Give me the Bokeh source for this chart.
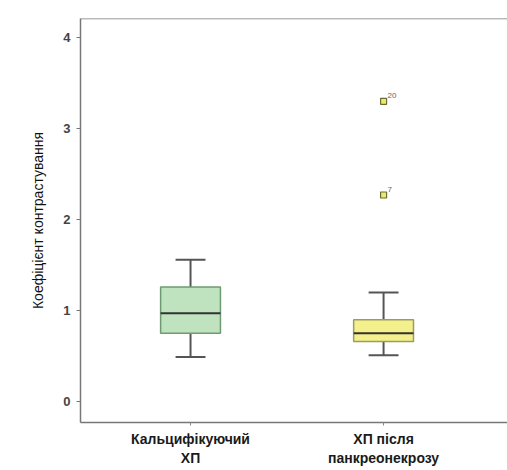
from bokeh.plotting import figure
from bokeh.models import Range1d, FixedTicker, ColumnDataSource, Span
from bokeh.core.properties import value
from bokeh.embed import file_html
from bokeh.resources import INLINE

categories = ["Кальцифікуючий\nХП", "ХП після\nпанкреонекрозу"]
positions = [1, 2]
lower = [0.49, 0.51]
q1 = [0.75, 0.66]
median = [0.97, 0.75]
q3 = [1.26, 0.90]
upper = [1.56, 1.20]
fills = ["#bfe2bf", "#f4f08c"]
borders = ["#6f9a72", "#9c9c62"]

outlier_x = [2, 2]
outlier_y = [3.30, 2.27]
outlier_labels = ["20", "7"]

y_ticks = [0, 1, 2, 3, 4]

FONT = "Liberation Sans"

y_range = Range1d(-0.23, 4.21)
p = figure(frame_width=427, frame_height=404, output_backend="svg", toolbar_location=None,
           x_range=Range1d(0.43, 2.642), y_range=y_range,
           min_border_left=80, min_border_right=0, min_border_top=18, min_border_bottom=48)
p.outline_line_color = None
p.grid.visible = False
p.background_fill_color = "white"
p.border_fill_color = "white"

src = ColumnDataSource(dict(x=positions, lower=lower, q1=q1, median=median, q3=q3,
                            upper=upper, fill=fills, border=borders))

# whiskers
p.segment(x0="x", y0="q3", x1="x", y1="upper", source=src, line_color="#555555", line_width=2)
p.segment(x0="x", y0="lower", x1="x", y1="q1", source=src, line_color="#555555", line_width=2)
cap = 0.155
p.segment(x0=[x - cap / 2 for x in positions], y0=upper, x1=[x + cap / 2 for x in positions], y1=upper,
          line_color="#555555", line_width=2)
p.segment(x0=[x - cap / 2 for x in positions], y0=lower, x1=[x + cap / 2 for x in positions], y1=lower,
          line_color="#555555", line_width=2)
# boxes
p.vbar(x="x", bottom="q1", top="q3", width=0.31, source=src, fill_color="fill",
       line_color="border", line_width=1.5)
# medians
p.segment(x0=[x - 0.155 for x in positions], y0=median, x1=[x + 0.155 for x in positions], y1=median,
          line_color="#333333", line_width=2)

# outliers
p.scatter(outlier_x, outlier_y, marker="square", size=6, fill_color="#e8ec6a",
          line_color="#6b6b3a", line_width=1.2)
p.text(outlier_x, outlier_y, text=outlier_labels, x_offset=4, y_offset=-3,
       text_font_size="8px", text_color="#666666", text_baseline="bottom",
       text_font=value(FONT))

# y axis
ya = p.yaxis[0]
ya.ticker = FixedTicker(ticks=y_ticks)
ya.axis_label = "Коефіцієнт контрастування"
ya.axis_label_text_font = FONT
ya.axis_label_text_font_style = "normal"
ya.axis_label_text_font_size = "14px"
ya.axis_label_text_color = "#111111"
ya.axis_label_standoff = 14
ya.major_label_text_font = FONT
ya.major_label_text_font_style = "bold"
ya.major_label_text_font_size = "13px"
ya.major_label_text_color = "#444444"
ya.major_label_standoff = 6
ya.axis_line_color = "#777777"
ya.axis_line_width = 1.5
ya.major_tick_line_color = "#777777"
ya.major_tick_in = 0
ya.major_tick_out = 4
ya.minor_tick_line_color = None

# x axis
xa = p.xaxis[0]
xa.ticker = FixedTicker(ticks=positions)
xa.major_label_overrides = {pos: lab for pos, lab in zip(positions, categories)}
xa.major_label_text_font = FONT
xa.major_label_text_font_style = "bold"
xa.major_label_text_font_size = "14px"
xa.major_label_text_color = "#1a1a1a"
xa.major_label_standoff = 5
xa.axis_line_color = "#777777"
xa.axis_line_width = 1.5
xa.major_tick_line_color = "#888888"
xa.major_tick_in = 0
xa.major_tick_out = 3
xa.minor_tick_line_color = None

# top border of the frame
p.add_layout(Span(location=y_range.end, dimension="width", line_color="#777777", line_width=1.5))

open("out.html", "w").write(file_html(p, INLINE))
